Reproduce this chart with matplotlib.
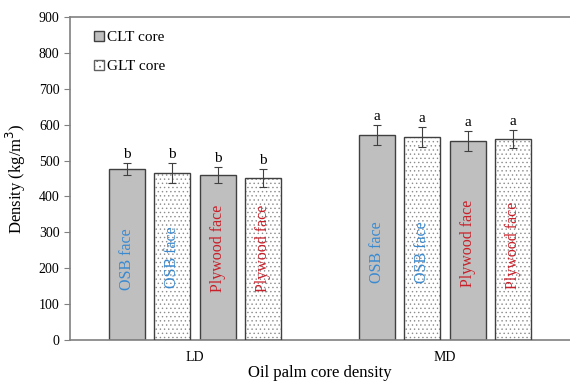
import numpy as np
import matplotlib.pyplot as plt

# data
groups = ['LD', 'MD']
series = ['CLT core', 'GLT core']
faces = ['OSB face', 'OSB face', 'Plywood face', 'Plywood face']
cores = ['CLT', 'GLT', 'CLT', 'GLT']
ld_vals = [476, 465, 460, 451]
md_vals = [571, 565, 554, 560]
ld_err = [17, 28, 22, 25]
md_err = [27, 28, 27, 26]
ld_letters = ['b', 'b', 'b', 'b']
md_letters = ['a', 'a', 'a', 'a']
ld_text_y = [225, 230, 255, 255]
md_text_y = [245, 245, 270, 265]

plt.rcParams['font.family'] = ['Liberation Serif', 'DejaVu Serif']
plt.rcParams['hatch.linewidth'] = 0.5

fig = plt.figure(figsize=(5.7, 3.83), dpi=100)
ax = fig.add_axes([0.1228, 0.1123, 0.877, 0.8433])

width = 0.144
step = 0.182
offsets = (np.arange(4) - 1.5) * step
face_col = {'OSB face': '#3a8ad0', 'Plywood face': '#c8202a'}

for gi, (vals, errs, lets, ty) in enumerate([(ld_vals, ld_err, ld_letters, ld_text_y),
                                              (md_vals, md_err, md_letters, md_text_y)]):
    for i in range(4):
        x = gi + offsets[i]
        if cores[i] == 'CLT':
            ax.bar(x, vals[i], width, color='#bfbfbf', edgecolor='#404040', linewidth=1.0, zorder=2)
        else:
            ax.bar(x, vals[i], width, color='white', edgecolor='#8c8c8c', hatch='....',
                   linewidth=0, zorder=2)
            ax.bar(x, vals[i], width, color='none', edgecolor='#404040', linewidth=1.0, zorder=3)
        ax.errorbar(x, vals[i], yerr=errs[i], fmt='none', ecolor='#404040', elinewidth=0.8,
                    capsize=3, capthick=0.8, zorder=4)
        ax.text(x, vals[i] + errs[i] + 6, lets[i], ha='center', va='bottom', fontsize=11)
        ax.text(x, ty[i], faces[i], rotation=90, ha='center', va='center', fontsize=11.5,
                color=face_col[faces[i]], zorder=5)

# legend proxies
ax.bar([0], [0], 0, color='#bfbfbf', edgecolor='#404040', label=series[0])
ax.bar([0], [0], 0, color='white', edgecolor='#606060', hatch='...', label=series[1])
leg = ax.legend(loc='upper left', frameon=False, fontsize=11, handlelength=0.7, handleheight=0.7,
                handletextpad=0.2, labelspacing=1.0, bbox_to_anchor=(0.02, 1.0))

ax.set_xlim(-0.5, 1.5)
ax.set_ylim(0, 900)
ax.set_yticks(range(0, 901, 100))
ax.set_xticks([0, 1])
ax.set_xticklabels(groups)
ax.tick_params(axis='x', length=0, labelsize=10, pad=8)
ax.tick_params(axis='y', direction='out', length=4, labelsize=10, color='#808080')
for s in ['left', 'bottom', 'top']:
    ax.spines[s].set_color('#808080')
    ax.spines[s].set_linewidth(1.2)
ax.spines['right'].set_visible(False)
ax.set_ylabel('Density (kg/m$^3$)', fontsize=12, labelpad=8)
ax.set_xlabel('Oil palm core density', fontsize=12)
ax.xaxis.set_label_coords(0.5, -0.078)
ax.xaxis.label.set_va('top')

fig.savefig('out.png', dpi=100)
